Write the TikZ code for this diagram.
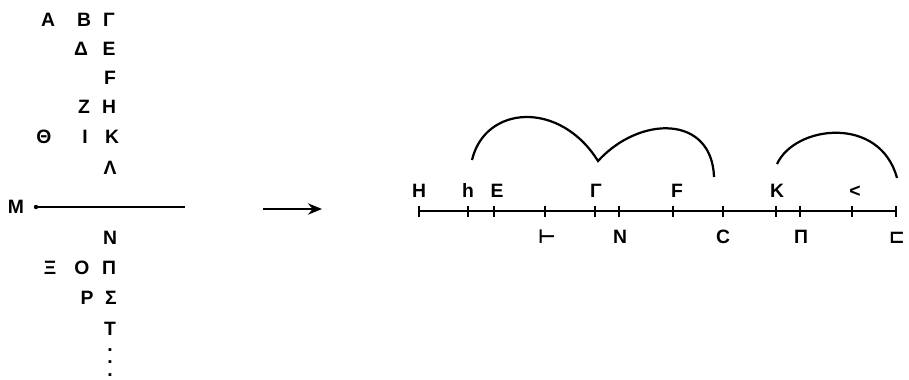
\documentclass[tikz,border=0pt]{standalone}
\usepackage{fontspec}
\setmainfont{Liberation Sans}
\newfontfamily\symfont{DejaVu Sans}
\usetikzlibrary{arrows.meta}
\begin{document}
\begin{tikzpicture}[x=0.03cm,y=-0.03cm,
  glyph/.style={font=\fontsize{16.5}{18}\selectfont\bfseries, inner sep=0pt, anchor=base},
  stroke/.style={line width=1.9pt},
  tickmark/.style={line width=2pt}]
\useasboundingbox (0,0) rectangle (909,379);
% the alphabet, left
\node[glyph] (A) at (48,26) {A};
\node[glyph] (B) at (84,26) {B};
\node[glyph] (Gamma) at (109,26) {Γ};
\node[glyph] (Delta) at (81,55) {Δ};
\node[glyph] (E) at (109,55) {E};
\node[glyph] (F) at (110,84) {F};
\node[glyph] (Z) at (84,113) {Z};
\node[glyph] (H) at (109,113) {H};
\node[glyph] (Theta) at (44,143) {Θ};
\node[glyph] (I) at (85,143) {I};
\node[glyph] (K) at (112,143) {K};
\node[glyph] (Lambda) at (110,174) {Λ};
\node[glyph] (M) at (16,213) {M};
\coordinate (mstart) at (36,207);
\coordinate (mend) at (185,207);
\fill (mstart) circle (2.2);
\draw[stroke] (mstart) -- (mend);
\node[glyph] (N) at (110,244) {N};
\node[glyph] (Xi) at (50,274) {Ξ};
\node[glyph] (O) at (82,274) {O};
\node[glyph] (Pi) at (109,274) {Π};
\node[glyph] (P) at (87,304) {P};
\node[glyph] (Sigma) at (111,304) {Σ};
\node[glyph] (T) at (110,335) {T};
\node[glyph, align=center, font=\fontsize{16.5}{11}\selectfont\bfseries, anchor=south] (dots) at (110,377) {.\\.\\.};
% arrow
\coordinate (go) at (263,209);
\coordinate (to) at (322,209);
\draw[stroke, -{Stealth[length=0.42cm,width=0.34cm]}] (go) -- (to);
% number line
\foreach \x [count=\i] in {419,468,494,545,595,619,673,723,776,800,852,896} {
  \coordinate (t\i) at (\x,211);
  \draw[tickmark] (\x,205.5) -- (\x,216.5);
}
\draw[stroke] (t1) -- (t12);
\node[glyph] (uH) at (419,197) {H};
\node[glyph] (uh) at (468,197) {h};
\node[glyph] (uE) at (497,197) {E};
\node[glyph] (uGamma) at (596,197) {Γ};
\node[glyph] (uF) at (677,197) {F};
\node[glyph] (uK) at (777,197) {K};
\node[glyph] (ult) at (855,197) {<};
\node[glyph] (lturn) at (547,243) {\symfont\bfseries ⊢};
\node[glyph] (lN) at (620,243) {N};
\node[glyph] (lC) at (723,243) {C};
\node[glyph] (lPi) at (801,243) {Π};
\node[glyph] (lsq) at (897,243) {\symfont\bfseries ⊏};
% arcs
\coordinate (a1) at (472,160);
\coordinate (cusp) at (598,161);
\coordinate (a2) at (714,177);
\draw[stroke] (a1) .. controls (485,105) and (560,100) .. (cusp)
  .. controls (640,115) and (712,115) .. (a2);
\coordinate (b1) at (777,164);
\coordinate (b2) at (897,178);
\draw[stroke] (b1) .. controls (795,125) and (880,115) .. (b2);
\end{tikzpicture}
\end{document}
